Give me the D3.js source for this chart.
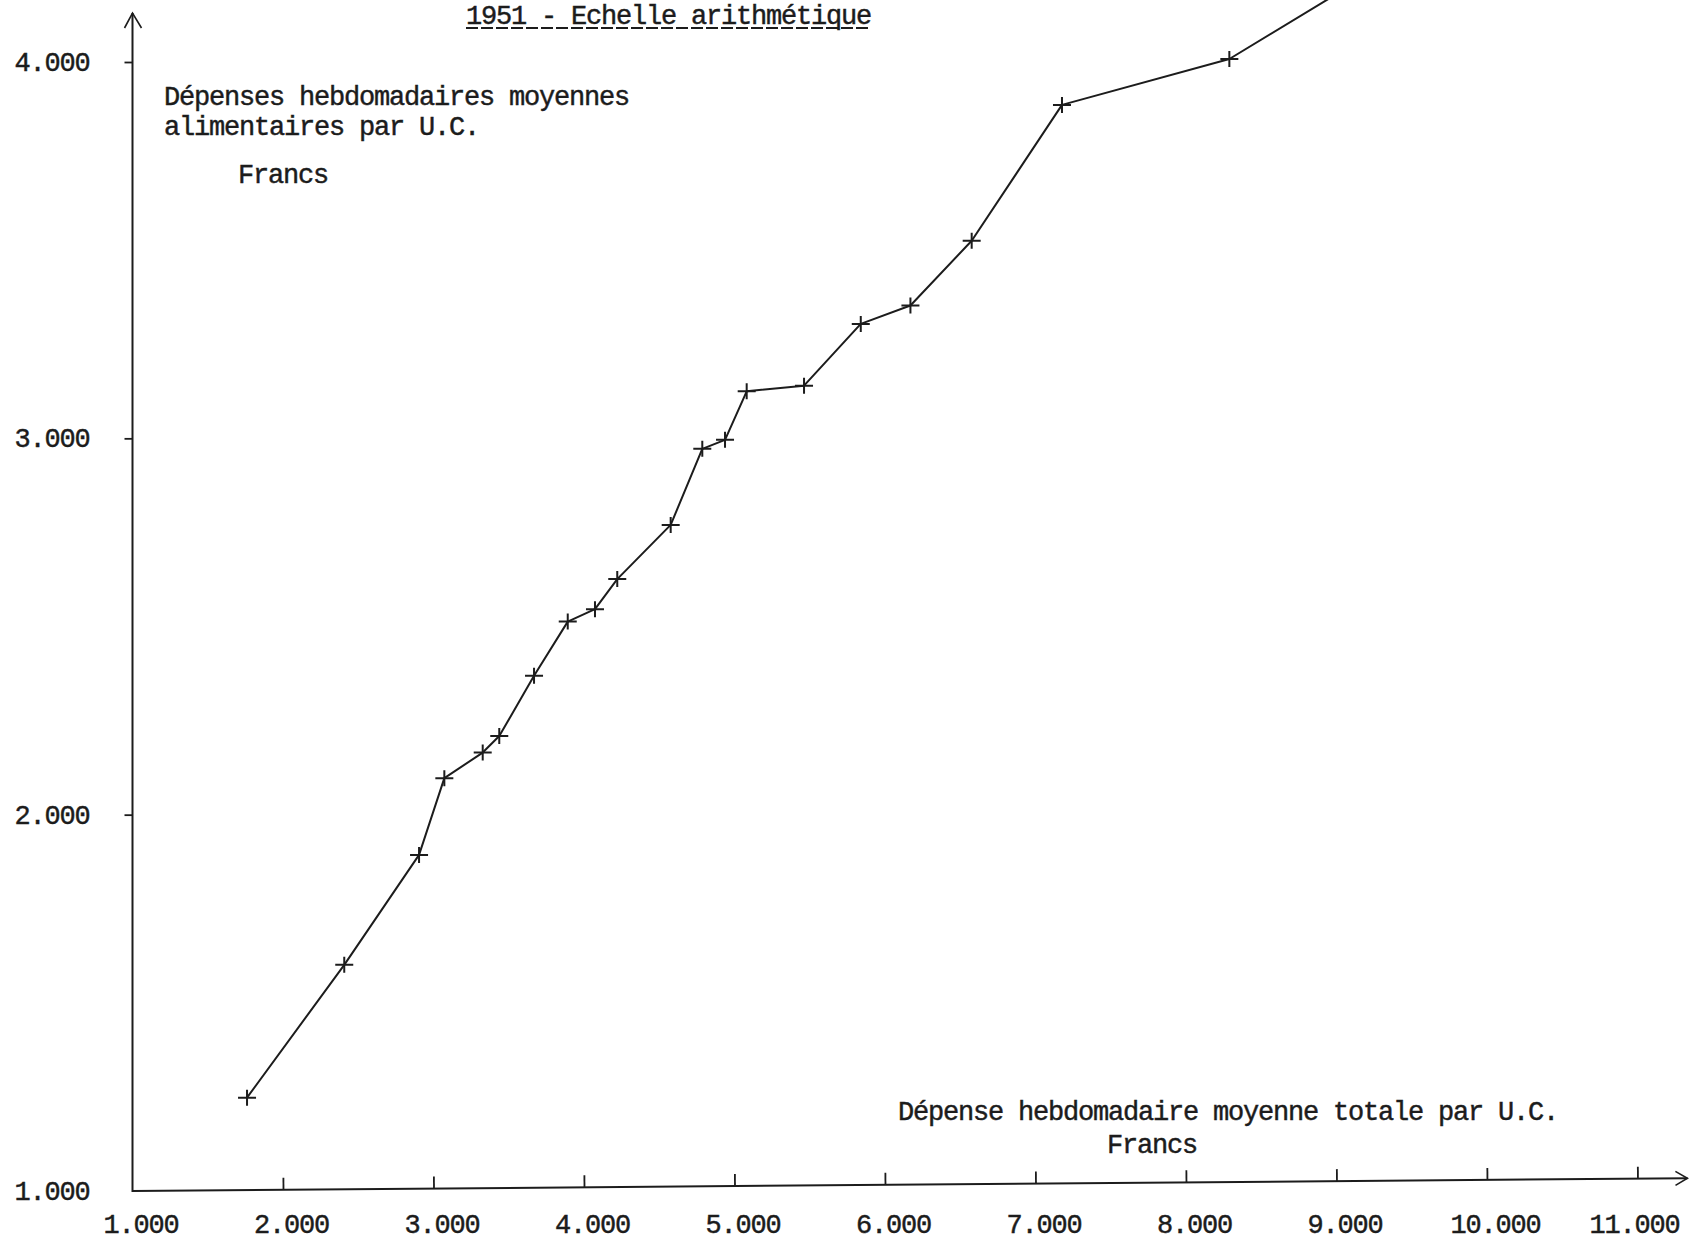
<!DOCTYPE html>
<html lang="fr">
<head>
<meta charset="utf-8">
<title>1951 - Echelle arithmétique</title>
<script src="https://cdn.jsdelivr.net/npm/d3@7"></script>
<style>
  html, body { margin: 0; padding: 0; background: #fff; }
  svg { display: block; }
  text { font-family: "Liberation Mono", "DejaVu Sans Mono", monospace; fill: #1c1c1c;
         stroke: #1c1c1c; stroke-width: 0.45px; letter-spacing: -1.2px; }
</style>
</head>
<body>
<div id="chart"></div>
<script>
// Dépenses alimentaires vs dépense totale par U.C., 1951 (échelle arithmétique).
// Values, in francs.

const totalSpend  = [1761, 2407, 2904, 3072, 3327, 3437, 3668, 3892, 4073, 4221, 4576,
                     4786, 4937, 5081, 5462, 5839, 6169, 6576, 7176, 8288, 9700];
const foodSpend   = [1248, 1601, 1893, 2097, 2165, 2209, 2369, 2513, 2546, 2626, 2770,
                     2972, 2996, 3125, 3140, 3304, 3353, 3525, 3886, 4008, 4350];

const xTickValues = [1000, 2000, 3000, 4000, 5000, 6000, 7000, 8000, 9000, 10000, 11000];
const xTickLabels = ["1.000", "2.000", "3.000", "4.000", "5.000", "6.000",
                     "7.000", "8.000", "9.000", "10.000", "11.000"];
const yTickValues = [1000, 2000, 3000, 4000];
const yTickLabels = ["1.000", "2.000", "3.000", "4.000"];

const titleText   = "1951 - Echelle arithmétique";
const yTitleLines = ["Dépenses hebdomadaires moyennes", "alimentaires par U.C."];
const xTitleLines = ["Dépense hebdomadaire moyenne totale par U.C.", "Francs"];
const unitText    = "Francs";


function drawChart(containerId)
{
  const width = 1689, height = 1241;
  const ink = '#1c1c1c';                                            // typewriter / pen ink
  const fontSize = 27;                                              // with -1.2px spacing: 15px per char
  const charW = 15;

  const x = d3.scaleLinear()
              .domain([xTickValues[0], xTickValues[xTickValues.length - 1]])
              .range([132.5, 1637.5]);

  const y = d3.scaleLinear()
              .domain([yTickValues[0], yTickValues[yTickValues.length - 1]])
              .range([1191, 62]);

  const svg = d3.select('#' + containerId)
                .append('svg')
                .attr('width', width)
                .attr('height', height);

  // --- Title (typed, underlined with underscores) ---
  svg.append('text')
     .attr('x', 466).attr('y', 24)
     .style('font-size', fontSize + 'px')
     .text(titleText);
  svg.append('line')
     .attr('x1', 466).attr('x2', 466 + titleText.length * charW)
     .attr('y1', 28).attr('y2', 28)
     .attr('stroke', ink).attr('stroke-width', 2.2)
     .attr('stroke-dasharray', '12,3');

  // --- X axis: slightly tilted on the scan ---
  const x0 = x.range()[0], xEnd = x.range()[1] + 50;               // arrow tip past last tick
  const xAxisG = svg.append('g')
     .attr('transform', 'translate(0,' + y(yTickValues[0]) + ') rotate(-0.47 ' + x0 + ' 0)');

  xAxisG.append('line')
     .attr('x1', x0).attr('x2', xEnd)
     .attr('stroke', ink).attr('stroke-width', 2);
  xAxisG.append('path')
     .attr('d', 'M' + (xEnd - 12) + ',-7L' + xEnd + ',0L' + (xEnd - 12) + ',7')
     .attr('fill', 'none').attr('stroke', ink).attr('stroke-width', 1.6);

  xAxisG.append('g')
     .call(d3.axisBottom(x).tickValues(xTickValues.slice(1)).tickSizeInner(-12).tickSizeOuter(0).tickFormat(''))
     .call(g => g.select('.domain').remove())
     .selectAll('line').attr('stroke', ink).attr('stroke-width', 1.8);

  // x tick labels (not tilted, typed a bit right of the ticks, kept inside the page)
  const xLabels = svg.append('g')
     .attr('transform', 'translate(0,' + y(yTickValues[0]) + ')')
     .call(d3.axisBottom(x).tickValues(xTickValues).tickSize(0).tickPadding(23)
             .tickFormat((d, i) => xTickLabels[i]))
     .call(g => g.select('.domain').remove());
  xLabels.selectAll('text')
     .attr('fill', ink)
     .attr('dx', (d, i) => Math.min(8, width - 10 - x(d) - xTickLabels[i].length * charW / 2))
     .style('font-family', '"Liberation Mono", monospace')
     .style('font-size', fontSize + 'px');

  // --- Y axis ---
  const yTop = y.range()[1] - 49;                                  // arrow tip above 4.000
  svg.append('line')
     .attr('x1', x0).attr('x2', x0)
     .attr('y1', y.range()[0] + 1).attr('y2', yTop)
     .attr('stroke', ink).attr('stroke-width', 2);
  svg.append('path')
     .attr('d', 'M' + (x0 - 8) + ',' + (yTop + 15) + 'L' + x0 + ',' + yTop + 'L' + (x0 + 9) + ',' + (yTop + 15))
     .attr('fill', 'none').attr('stroke', ink).attr('stroke-width', 1.6);

  const yAxisG = svg.append('g')
     .attr('transform', 'translate(' + x0 + ',0)')
     .call(d3.axisLeft(y).tickValues(yTickValues).tickSize(8).tickPadding(35)
             .tickFormat((d, i) => yTickLabels[i]))
     .call(g => g.select('.domain').remove());
  yAxisG.selectAll('.tick line').attr('stroke', ink).attr('stroke-width', 1.8);
  yAxisG.selectAll('.tick').filter(d => d === yTickValues[0]).select('line').remove();
  yAxisG.selectAll('text')
     .attr('fill', ink)
     .style('font-family', '"Liberation Mono", monospace')
     .style('font-size', fontSize + 'px');

  // --- Axis titles ---
  svg.append('g')
     .selectAll('text')
     .data(yTitleLines)
     .enter()
     .append('text')
     .attr('x', 164)
     .attr('y', (d, i) => 105 + i * 30)
     .style('font-size', fontSize + 'px')
     .text(d => d);
  svg.append('text')
     .attr('x', 238).attr('y', 183)
     .style('font-size', fontSize + 'px')
     .text(unitText);

  svg.append('g')
     .selectAll('text')
     .data(xTitleLines)
     .enter()
     .append('text')
     .attr('x', (d, i) => i === 0 ? 898 : 1107)
     .attr('y', (d, i) => 1120 + i * 33)
     .style('font-size', fontSize + 'px')
     .text(d => d);

  // --- Curve and cross markers ---
  const pts = totalSpend.map((v, i) => ({ x: v, y: foodSpend[i] }));

  svg.append('path')
     .datum(pts)
     .attr('d', d3.line().x(d => x(d.x)).y(d => y(d.y)))
     .attr('fill', 'none')
     .attr('stroke', ink)
     .attr('stroke-width', 2)
     .attr('stroke-linejoin', 'round');

  svg.append('g')
     .selectAll('path')
     .data(pts)
     .enter()
     .append('path')
     .attr('transform', d => 'translate(' + x(d.x) + ',' + y(d.y) + ')')
     .attr('d', 'M-9,0H9M0,-8V8')
     .attr('stroke', ink)
     .attr('stroke-width', 2);
}

drawChart('chart');
</script>
</body>
</html>
